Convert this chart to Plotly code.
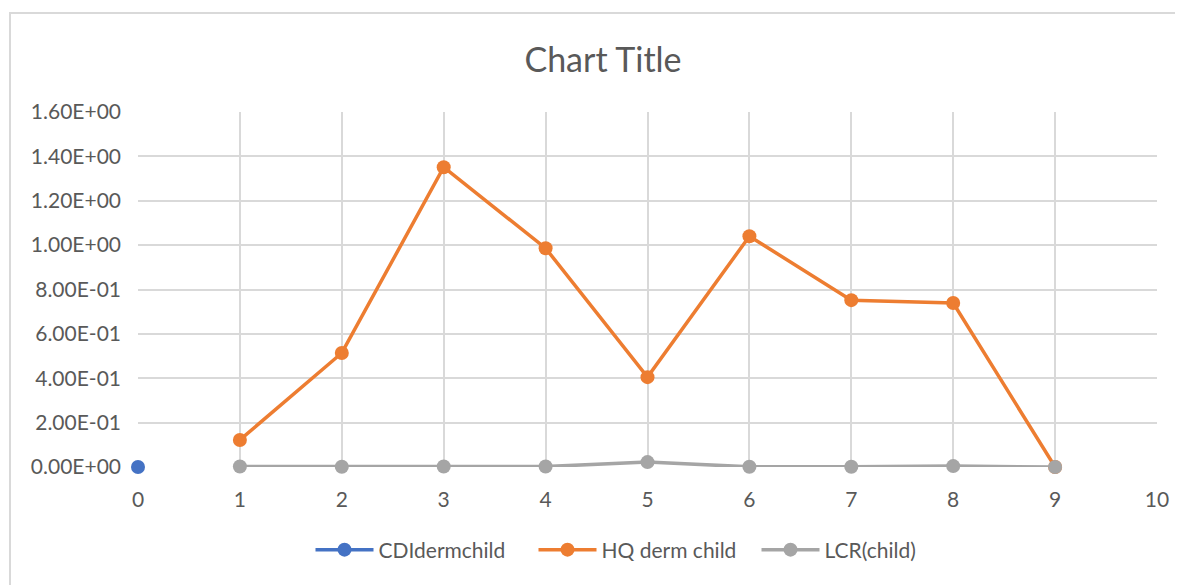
import plotly.graph_objects as go

# series data
cdi_x = [0]
cdi_y = [0.0]

x_vals = [1, 2, 3, 4, 5, 6, 7, 8, 9]
hq_derm_child = [0.122, 0.514, 1.351, 0.986, 0.405, 1.04, 0.752, 0.739, 0.0]
lcr_child = [0.002, 0.001, 0.002, 0.002, 0.022, 0.001, 0.001, 0.004, 0.0]

y_ticks = [0, 0.2, 0.4, 0.6, 0.8, 1.0, 1.2, 1.4, 1.6]
y_labels = ["0.00E+00", "2.00E-01", "4.00E-01", "6.00E-01", "8.00E-01",
            "1.00E+00", "1.20E+00", "1.40E+00", "1.60E+00"]

FONT = "Lato, Carlito, Calibri, sans-serif"
TXT = "#595959"

# the page puts the figure 8px in from the top-left corner
W, H = 1175, 577
L, T, R, B = 130, 104, 26, 118
plot_w = W - L - R
plot_h = H - T - B

fig = go.Figure()
fig.add_trace(go.Scatter(x=cdi_x, y=cdi_y, name="CDIdermchild", mode="lines+markers",
                         line=dict(color="#4472c4", width=3.5),
                         marker=dict(size=14, color="#4472c4"), cliponaxis=False))
fig.add_trace(go.Scatter(x=x_vals, y=hq_derm_child, name="HQ derm child", mode="lines+markers",
                         line=dict(color="#ed7d31", width=3.5),
                         marker=dict(size=14, color="#ed7d31"), cliponaxis=False))
fig.add_trace(go.Scatter(x=x_vals, y=lcr_child, name="LCR(child)", mode="lines+markers",
                         line=dict(color="#a5a5a5", width=3.5),
                         marker=dict(size=14, color="#a5a5a5"), cliponaxis=False))

fig.update_layout(
    width=W, height=H,
    margin=dict(l=L, r=R, t=T, b=B),
    paper_bgcolor="white", plot_bgcolor="white",
    font=dict(family=FONT, color=TXT, size=21),
    title=dict(text="Chart Title", x=(603 - 8) / W, xanchor="center",
               y=1 - (60 - 8) / H, yanchor="middle",
               font=dict(size=34, color=TXT, family=FONT)),
    showlegend=True,
    legend=dict(orientation="h", x=(645 - 138) / plot_w, xanchor="center",
                y=(467 - 550) / plot_h, yanchor="middle",
                itemwidth=58, entrywidth=150,
                font=dict(size=21, color=TXT)),
    xaxis=dict(range=[0, 10], dtick=1, tick0=0, showgrid=True, gridcolor="#d9d9d9",
               gridwidth=1.5, zeroline=False, showline=False, ticks="",
               ticklabelstandoff=18, tickfont=dict(size=21, color=TXT)),
    yaxis=dict(range=[0, 1.6], tickvals=y_ticks, ticktext=y_labels, showgrid=True,
               gridcolor="#d9d9d9", gridwidth=1.5, zeroline=False, showline=False,
               ticks="", ticklabelstandoff=16, tickfont=dict(size=21, color=TXT)),
)

# outer chart border (light gray frame)
fig.add_shape(type="rect", xref="paper", yref="paper",
              x0=-(138 - 10) / plot_w, x1=(1200 - 138) / plot_w,
              y0=(467 - 600) / plot_h, y1=(467 - 13) / plot_h,
              line=dict(color="#d9d9d9", width=2), fillcolor="rgba(0,0,0,0)", layer="below")

fig.write_html("out.html")
